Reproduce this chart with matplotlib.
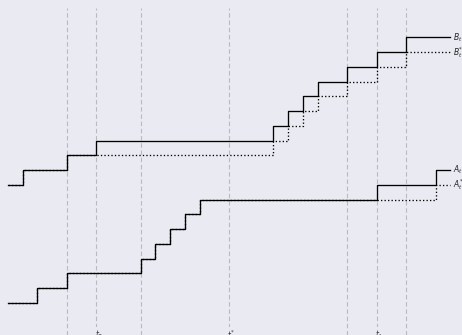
import numpy as np
import matplotlib
matplotlib.use("Agg")
import matplotlib.pyplot as plt

# Arrival times of the two counting processes (solid) and their
# delayed counterparts (dotted)
a_jumps = [2, 4, 9, 10, 11, 12, 13, 25, 29]
a_star_jumps = [2, 4, 9, 10, 11, 12, 13, 29]
b_jumps = [1, 4, 6, 18, 19, 20, 21, 23, 25, 27]
b_star_jumps = [1, 4, 18, 19, 20, 21, 23, 25, 27]
b_offset = 8
t_end = 30

# Reference instants (dashed guides) and the labelled ones
guide_times = [4, 6, 9, 15, 23, 25, 27]
tick_times = [6, 15, 25]
tick_labels = [r"$t_B$", r"$t^{*}$", r"$t_A$"]

bg = "#eaeaf2"
fig = plt.figure(figsize=(4.62, 3.35), dpi=100, facecolor=bg)
ax = fig.add_axes([0, 0, 1, 1])
ax.set_facecolor(bg)
ax.set_xlim(-0.542, 30.78)
ax.set_ylim(-2.17, 20.54)
ax.axis("off")


def path(jumps, offset=0):
    t = np.concatenate([[0], jumps, [t_end]])
    n = np.concatenate([np.arange(len(jumps) + 1), [len(jumps)]]) + offset
    return t, n


for t in guide_times:
    ax.plot([t, t], [-2.2, 20.0], color="#b9b9c0", lw=0.8,
            ls=(0, (4, 2.5)), zorder=1)

for jumps, off, style in [(a_jumps, 0, "-"), (a_star_jumps, 0, ":"),
                          (b_jumps, b_offset, "-"), (b_star_jumps, b_offset, ":")]:
    t, n = path(jumps, off)
    ax.plot(t, n, drawstyle="steps-post", color="black", lw=0.95,
            ls=style, zorder=3)

# End-of-path labels
ends = [(a_jumps, 0, r"$A_t$"), (a_star_jumps, 0, r"$A_t^{*}$"),
        (b_jumps, b_offset, r"$B_t$"), (b_star_jumps, b_offset, r"$B_t^{*}$")]
for jumps, off, lab in ends:
    ax.text(t_end + 0.2, len(jumps) + off, lab, fontsize=5.5,
            ha="left", va="center", color="#222222", zorder=4)

for t, lab in zip(tick_times, tick_labels):
    ax.text(t + 0.15, -1.72, lab, fontsize=5.5, ha="center", va="top",
            color="#333333", zorder=4,
            bbox=dict(boxstyle="square,pad=0.15", fc=bg, ec="none"))

fig.savefig("out.png", dpi=100, facecolor=bg)
